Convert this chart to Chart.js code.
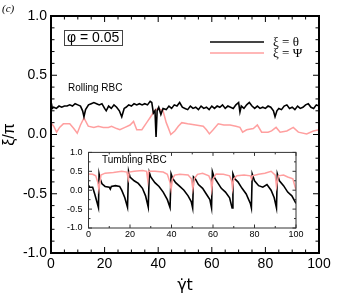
<!DOCTYPE html>
<html lang="en">
<head>
<meta charset="UTF-8">
<title>Rolling and tumbling RBC</title>
<script src="https://cdn.jsdelivr.net/npm/chart.js@4.4.0/dist/chart.umd.min.js"></script>
<style>
  body { margin: 0; background: #fff; }
  #wrap { position: relative; width: 337px; height: 300px; }
  #main { position: absolute; left: 0; top: 0; }
  #inset { position: absolute; left: 56px; top: 141px; }
</style>
</head>
<body>
<div id="wrap">
  <canvas id="main" width="337" height="300"></canvas>
  <canvas id="inset" width="250" height="100"></canvas>
</div>
<script>
// rolling RBC (main plot), xi = theta
const rollThetaT = [0, 0.5, 1, 2, 3, 4, 5, 6, 7, 8, 9, 10, 11, 11.8, 12.3, 12.9, 14, 15, 16, 17, 18, 19, 20, 20.6, 21.5, 22.5, 23.5, 24.5, 25.5, 26.4, 27.3, 28, 29, 30, 31, 32, 33, 34, 35, 36, 37, 37.6, 38.2, 38.8, 39.2, 39.6, 40.2, 41, 41.8, 43, 44, 45, 46, 47, 48, 49, 50, 51, 52, 53, 54, 55, 56, 57, 58, 59, 60, 61, 62, 63, 64, 65, 66, 67, 68, 69, 70, 70.5, 71, 72, 73, 74, 75, 76, 77, 78, 79, 80, 81, 82, 83, 83.6, 84.3, 85, 86, 87, 88, 89, 90, 91, 92, 93, 94, 95, 96, 97, 98, 99, 100];
const rollTheta = [0.28, 0.22, 0.23, 0.22, 0.24, 0.23, 0.24, 0.24, 0.25, 0.24, 0.26, 0.25, 0.24, 0.2, 0.15, 0.21, 0.25, 0.26, 0.27, 0.26, 0.25, 0.26, 0.22, 0.2, 0.24, 0.22, 0.25, 0.23, 0.2, 0.15, 0.22, 0.23, 0.25, 0.24, 0.26, 0.25, 0.26, 0.25, 0.26, 0.25, 0.28, 0.27, 0.18, 0.2, -0.02, 0.2, 0.23, 0.17, 0.22, 0.21, 0.24, 0.22, 0.25, 0.24, 0.27, 0.23, 0.22, 0.21, 0.24, 0.22, 0.23, 0.21, 0.24, 0.22, 0.23, 0.21, 0.24, 0.22, 0.24, 0.23, 0.25, 0.22, 0.24, 0.23, 0.22, 0.25, 0.27, 0.19, 0.24, 0.22, 0.25, 0.27, 0.24, 0.22, 0.24, 0.22, 0.23, 0.22, 0.24, 0.23, 0.2, 0.15, 0.2, 0.22, 0.21, 0.24, 0.25, 0.22, 0.23, 0.21, 0.24, 0.22, 0.23, 0.25, 0.26, 0.23, 0.22, 0.25, 0.24];

// rolling RBC, xi = Psi
const rollPsiT = [0, 1, 2.1, 3.2, 4.6, 7, 8.5, 9.8, 11, 12.3, 13.9, 16, 17.6, 19.5, 21.4, 22.6, 24.5, 25.7, 27.6, 29.5, 30.8, 32, 33.9, 35.7, 37.5, 38.5, 40, 41.8, 43, 43.7, 44.7, 46.2, 47.5, 48.8, 51, 54, 56.8, 58, 59.1, 60.5, 62.4, 64.5, 66.8, 69, 70.5, 71.5, 73, 75.5, 77, 78.6, 81, 82.3, 84, 85.5, 88, 90.4, 92.3, 95.4, 97.9, 100];
const rollPsi = [0.1, 0.07, 0.02, 0.06, 0.09, 0.09, 0.05, 0.01, 0.08, 0.14, 0.07, 0.06, 0.07, 0.06, 0.06, 0.07, 0.05, 0.04, 0.06, 0.08, 0.11, 0.04, 0.04, 0.1, 0.16, 0.2, 0.22, 0.2, 0.1, 0.06, 0.0, 0.03, 0.07, 0.1, 0.09, 0.08, 0.07, 0.04, 0.005, 0.04, 0.09, 0.08, 0.08, 0.07, 0.06, 0.02, 0.04, 0.05, 0.08, 0.02, 0.02, 0.03, 0.06, 0.02, 0.03, 0.06, 0.02, 0.005, 0.03, 0.04];

// tumbling RBC (inset), xi = theta
const tumbThetaT = [0, 0.5, 2, 3, 4, 4.8, 5.1, 5.6, 6.5, 8, 10, 10.5, 11, 13, 15, 16, 17.5, 18.8, 19.3, 20, 22, 24, 26, 27.5, 28.8, 29.3, 30, 32, 34, 36, 38, 39.3, 39.8, 40.5, 42, 44, 46, 48, 49.5, 50.2, 50.6, 51.5, 53, 55, 57, 58.5, 59.3, 59.7, 60.5, 62, 64, 66, 68, 69.2, 69.6, 70.5, 72, 74, 76, 78, 78.5, 78.9, 80, 82, 84, 86, 88, 89.5, 90.6, 91, 92, 94, 96, 98, 100];
const tumbTheta = [0.13, 0.08, 0.08, -0.1, -0.3, -0.46, 0.43, 0.3, 0.17, 0.1, 0.08, 0.03, 0.1, 0.12, 0.1, 0.0, -0.2, -0.45, 0.5, 0.35, 0.25, 0.18, 0.05, -0.15, -0.45, 0.47, 0.35, 0.2, 0.1, -0.05, -0.25, -0.46, 0.43, 0.32, 0.2, 0.1, 0.0, -0.15, -0.3, -0.47, 0.35, 0.3, 0.15, 0.05, -0.12, -0.25, -0.47, 0.49, 0.35, 0.22, 0.05, -0.05, -0.2, -0.47, 0.43, 0.3, 0.22, 0.05, -0.1, -0.35, -0.47, 0.43, 0.25, 0.12, 0.08, 0.15, 0.0, -0.2, -0.47, 0.43, 0.25, 0.12, -0.05, -0.15, -0.35];

// tumbling RBC, xi = Psi
const tumbPsiT = [0, 2, 3.5, 4.5, 5, 5.5, 6, 8, 12, 16, 18.5, 19.2, 19.6, 22, 26, 28, 28.6, 29, 32, 36, 38, 39.3, 39.8, 40.5, 41.5, 44, 48, 49.6, 50.3, 51, 52.5, 55, 58, 59, 59.4, 60, 61.5, 65, 68, 69, 69.4, 70, 71.5, 75, 78, 78.6, 79, 82, 85, 88, 90, 90.6, 91.5, 94, 96, 98.5, 99.5, 100];
const tumbPsi = [0.43, 0.42, 0.38, 0.2, 0.02, 0.2, 0.4, 0.45, 0.47, 0.5, 0.48, 0.3, 0.48, 0.5, 0.52, 0.5, 0.25, 0.5, 0.5, 0.48, 0.42, 0.2, 0.02, 0.3, 0.4, 0.42, 0.4, 0.3, 0.03, 0.3, 0.42, 0.45, 0.38, 0.25, 0.02, 0.3, 0.43, 0.42, 0.38, 0.25, 0.05, 0.3, 0.38, 0.4, 0.38, 0.3, 0.38, 0.42, 0.45, 0.5, 0.4, 0.1, 0.38, 0.4, 0.35, 0.3, 0.1, 0.02];

const seriesLabels = ['ξ = θ', 'ξ = Ψ'];
const seriesColors = ['#000000', '#ff9f9f'];

const SANS = "'Liberation Sans', Arial, Helvetica, sans-serif";
const SERIF = "'Liberation Serif', 'Times New Roman', serif";
Chart.defaults.font.family = SANS;
Chart.defaults.color = '#000';

function toPoints(xs, ys) {
    return xs.map((x, i) => ({ x: x, y: ys[i] }));
}

// box around the plot and inward ticks on all four sides
function frameTicks(o) {
    return {
        id: 'frameTicks',
        afterDraw(chart) {
            const ctx = chart.ctx;
            const a = chart.chartArea;
            const xs = chart.scales.x, ys = chart.scales.y;
            ctx.save();
            ctx.strokeStyle = o.color;
            ctx.lineWidth = o.tickW;
            ctx.beginPath();
            for (let v = xs.min; v <= xs.max + 1e-9; v += o.xMinor) {
                const px = xs.getPixelForValue(v);
                const major = Math.abs(v / o.xMajor - Math.round(v / o.xMajor)) < 1e-6;
                const len = major ? o.major : o.minor;
                ctx.moveTo(px, a.bottom); ctx.lineTo(px, a.bottom - len);
                ctx.moveTo(px, a.top); ctx.lineTo(px, a.top + len);
            }
            for (let v = ys.min; v <= ys.max + 1e-9; v += o.yMinor) {
                const py = ys.getPixelForValue(v);
                const major = Math.abs(v / o.yMajor - Math.round(v / o.yMajor)) < 1e-6;
                const len = major ? o.major : o.minor;
                ctx.moveTo(a.left, py); ctx.lineTo(a.left + len, py);
                ctx.moveTo(a.right, py); ctx.lineTo(a.right - len, py);
            }
            ctx.stroke();
            ctx.lineWidth = o.frameW;
            ctx.strokeRect(a.left, a.top, a.right - a.left, a.bottom - a.top);
            ctx.restore();
        }
    };
}

const mainNotes = {
    id: 'mainNotes',
    afterDraw(chart) {
        const ctx = chart.ctx;
        ctx.save();
        ctx.fillStyle = '#000';
        ctx.textBaseline = 'middle';
        ctx.font = 'italic 11px ' + SERIF;
        ctx.fillText('(c)', 2, 9);

        ctx.strokeStyle = '#444';
        ctx.lineWidth = 1;
        ctx.strokeRect(64.5, 30.5, 58, 15);
        ctx.font = '14px ' + SANS;
        ctx.fillText('φ = 0.05', 67, 38.5);

        ctx.font = '10px ' + SANS;
        ctx.fillText('Rolling RBC', 68, 88);

        // legend
        const ys = [42, 53];
        chart.data.datasets.forEach((ds, i) => {
            ctx.strokeStyle = i === 0 ? '#444' : ds.borderColor;
            ctx.lineWidth = i === 0 ? 2 : 1.5;
            ctx.beginPath();
            ctx.moveTo(210, ys[i]);
            ctx.lineTo(264, ys[i]);
            ctx.stroke();
            ctx.font = '13px ' + SERIF;
            ctx.fillText(ds.label, 273, ys[i] + 0.5);
        });
        ctx.restore();
    }
};

const insetNotes = {
    id: 'insetNotes',
    afterDraw(chart) {
        const ctx = chart.ctx;
        ctx.save();
        ctx.fillStyle = '#000';
        ctx.textBaseline = 'middle';
        ctx.font = '10px ' + SANS;
        ctx.fillText('Tumbling RBC', 102 - 56, 160 - 141);
        ctx.restore();
    }
};

const whiteBg = {
    id: 'whiteBg',
    beforeDraw(chart) {
        const a = chart.chartArea;
        chart.ctx.save();
        chart.ctx.fillStyle = '#fff';
        chart.ctx.fillRect(a.left, a.top, a.right - a.left, a.bottom - a.top);
        chart.ctx.restore();
    }
};

function lineSet(label, pts, color, width) {
    return {
        label: label,
        data: pts,
        borderColor: color,
        backgroundColor: color,
        borderWidth: width,
        showLine: true,
        pointRadius: 0,
        tension: 0
    };
}

new Chart(document.getElementById('main'), {
    type: 'scatter',
    data: {
        datasets: [
            lineSet(seriesLabels[0], toPoints(rollThetaT, rollTheta), seriesColors[0], 1.6),
            lineSet(seriesLabels[1], toPoints(rollPsiT, rollPsi), seriesColors[1], 1.5)
        ]
    },
    options: {
        responsive: false,
        animation: false,
        devicePixelRatio: 1,
        layout: { padding: { top: 16, right: 18, left: 0, bottom: 0 } },
        plugins: { legend: { display: false }, tooltip: { enabled: false } },
        scales: {
            x: {
                type: 'linear', min: 0, max: 100,
                grid: { display: false, drawTicks: false },
                border: { display: false },
                ticks: { stepSize: 20, padding: 3, autoSkip: false, maxRotation: 0, font: { size: 14 } },
                title: { display: true, text: 'γ̇t', font: { size: 16, family: "'DejaVu Sans', sans-serif" }, padding: { top: 0, bottom: 5 } },
                afterFit(s) { s.height = 47; }
            },
            y: {
                type: 'linear', min: -1, max: 1,
                grid: { display: false, drawTicks: false },
                border: { display: false },
                ticks: { stepSize: 0.5, padding: 4, font: { size: 14 }, callback: v => v.toFixed(1) },
                title: { display: true, text: 'ξ/π', font: { size: 16 }, padding: 0 },
                afterFit(s) { s.width = 51; }
            }
        }
    },
    plugins: [frameTicks({ color: '#000', frameW: 2, tickW: 1, major: 6, minor: 3.5, xMajor: 20, xMinor: 5, yMajor: 0.5, yMinor: 0.1 }), mainNotes]
});

new Chart(document.getElementById('inset'), {
    type: 'scatter',
    data: {
        datasets: [
            lineSet(seriesLabels[1], toPoints(tumbPsiT, tumbPsi), seriesColors[1], 1.5),
            lineSet(seriesLabels[0], toPoints(tumbThetaT, tumbTheta), seriesColors[0], 1.6)
        ]
    },
    options: {
        responsive: false,
        animation: false,
        devicePixelRatio: 1,
        layout: { padding: { top: 8, right: 10, left: 0, bottom: 0 } },
        plugins: { legend: { display: false }, tooltip: { enabled: false } },
        scales: {
            x: {
                type: 'linear', min: 0, max: 100,
                grid: { display: false, drawTicks: false },
                border: { display: false },
                ticks: { stepSize: 20, padding: 1, autoSkip: false, maxRotation: 0, font: { size: 9 } },
                afterFit(s) { s.height = 13; }
            },
            y: {
                type: 'linear', min: -1, max: 1,
                grid: { display: false, drawTicks: false },
                border: { display: false },
                ticks: { stepSize: 0.5, padding: 6, font: { size: 9 }, callback: v => v.toFixed(1) },
                afterFit(s) { s.width = 32.5; }
            }
        }
    },
    plugins: [whiteBg, frameTicks({ color: '#333', frameW: 1, tickW: 1, major: 3.5, minor: 2, xMajor: 20, xMinor: 10, yMajor: 0.5, yMinor: 0.25 }), insetNotes]
});
</script>
</body>
</html>
